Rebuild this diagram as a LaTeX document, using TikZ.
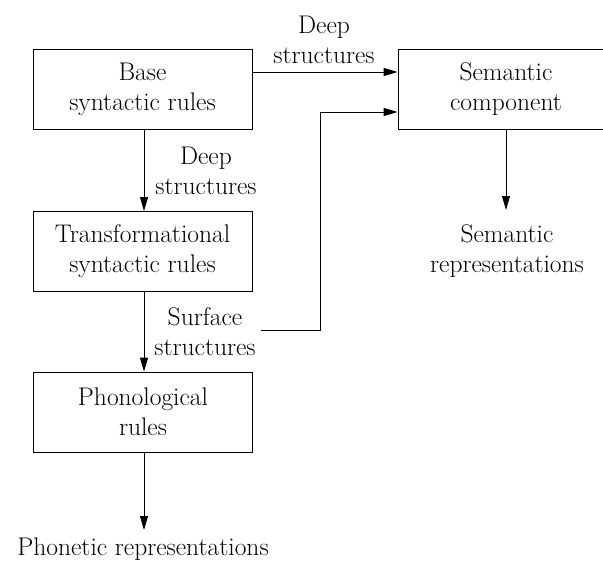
\documentclass[tikz,border=0pt]{standalone}
\usepackage{tikz}
\usetikzlibrary{arrows.meta,calc}

\begin{document}
\begin{tikzpicture}[x=1pt,y=-1pt,
		font=\fontsize{25.5}{30}\selectfont,
		rulebox/.style={draw, line width=0.9pt, minimum width=219pt, minimum height=80pt, align=center, inner sep=0pt},
		lbl/.style={align=center, inner sep=0pt},
		flow/.style={line width=0.9pt, -{Triangle[length=14pt,width=8pt]}}]

	\useasboundingbox (0,0) rectangle (603,562);
	\clip (0,0) rectangle (603,562);

	% boxes
	\node[rulebox] (base)  at (142.5,89)  {Base\\syntactic rules};
	\node[rulebox, minimum width=216pt] (sem) at (506,89) {Semantic\\component};
	\node[rulebox] (trans) at (142.5,251.5) {Transformational\\syntactic rules};
	\node[rulebox] (phon)  at (143,412)  {Phonological\\rules};

	% outputs
	\node[lbl] (semrep) at (507,251) {Semantic\\representations};
	\node[lbl] (phonrep) at (143,549) {Phonetic representations};

	% labels on the connectors
	\node[lbl] (deeptop)  at (324,40)  {Deep\\structures};
	\node[lbl] (deepside) at (206,171) {Deep\\structures};
	\node[lbl] (surf)     at (205,332) {Surface\\structures};

	\coordinate (bend) at (320,112);

	\draw[flow] ([yshift=17pt]base.east) -- ([yshift=17pt]sem.west);
	\draw[flow] (base.south -| 144,0) -- (trans.north -| 144,0);
	\draw[flow] (trans.south -| 144,0) -- (phon.north -| 144,0);
	\draw[flow] (phon.south -| 144,0) -- (144,530);
	\draw[flow] (sem.south -| 506,0) -- (506,210);
	\draw[flow] ([xshift=5pt,yshift=2pt]surf.east) -| (bend) -- (bend -| sem.west);

\end{tikzpicture}
\end{document}
